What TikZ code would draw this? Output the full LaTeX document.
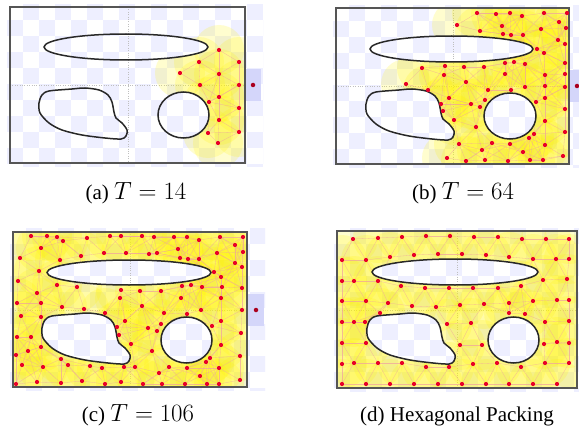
\documentclass[tikz,border=0pt]{standalone}
\usepackage[no-math]{fontspec}
\setmainfont{Liberation Serif}
\definecolor{chk}{RGB}{238,239,255}
\definecolor{bluesq}{RGB}{212,214,250}
\definecolor{ptred}{RGB}{232,0,40}
\definecolor{probec}{RGB}{170,0,30}
\definecolor{edgec}{RGB}{240,160,160}
\definecolor{framec}{RGB}{85,85,85}
\definecolor{obstc}{RGB}{40,40,40}
\definecolor{covc}{RGB}{255,245,0}

\newcommand\checker[4]{\begin{scope}\clip (#1,#2) rectangle (#3,#4);
 \foreach \cx in {0,...,16}{\foreach \cy in {0,...,10}{\ifodd\numexpr\cx+\cy\relax \fill[chk] ({#1+16*\cx},{#2+16*\cy}) rectangle ++(16,16);\fi}}\end{scope}}

\newcommand\blobshape[2]{plot[smooth cycle] coordinates {(#1+3,#2+7) (#1+10,#2+3) (#1+33,#2+1) (#1+46,#2+0) (#1+60,#2+2) (#1+69,#2+7) (#1+73,#2+14) (#1+75,#2+24) (#1+77,#2+30) (#1+83,#2+35) (#1+88,#2+42) (#1+87,#2+48) (#1+82,#2+51) (#1+66,#2+50) (#1+43,#2+47) (#1+23,#2+42) (#1+10,#2+35) (#1+1,#2+25) (#1+0,#2+15)}}

\newcommand\obstacles{(\ecx,\ecy) ellipse [x radius=\erx, y radius=\ery] (\ccx,\ccy) ellipse [x radius=\crx, y radius=\cry] \blobshape{\bx}{\by}}

% #1 prefix, #2 point list, #3 squared edge threshold
\newcommand\drawpanel[3]{%
 \begin{scope}[even odd rule]
  \clip (\Rl,\Rt) rectangle (\Rr,\Rb) \obstacles;
  \foreach \px/\py [count=\i] in #2 {\coordinate (#1\i) at (\px,\py); \fill[cover] (\px,\py) circle[radius=25];}
  \foreach \xa/\ya [count=\i] in #2 {%
    \foreach \xb/\yb [count=\j] in #2 {%
      \ifnum\j>\i
        \ifnum\numexpr(\xb-\xa)*(\xb-\xa)+(\yb-\ya)*(\yb-\ya)\relax<#3
          \draw[edge] (#1\i) -- (#1\j);
        \fi
      \fi}}
 \end{scope}
 \draw[obst] \obstacles;
 \draw[frame] (\Rl,\Rt) rectangle (\Rr,\Rb);
 \foreach \px/\py [count=\i] in #2 {\node[pt] (#1d\i) at (#1\i) {};}
}

\def\ptsA{219/50, 239/62, 199/62, 219/74, 180/73, 200/85, 239/85, 219/97, 209/102, 239/108, 219/120, 239/132, 208/133, 218/143}
\def\ptsB{477/13, 496/14, 510/13, 522/16, 544/13, 567/13, 457/25, 502/26, 480/31, 541/29, 559/22, 566/28, 503/34, 511/35, 523/35, 558/40, 565/44, 537/49, 544/53, 505/63, 514/62, 525/64, 565/63, 464/67, 484/67, 505/74, 545/75, 565/74, 466/82, 488/90, 511/90, 525/87, 545/86, 565/87, 485/100, 471/104, 480/107, 536/102, 545/98, 565/109, 454/120, 476/127, 545/121, 565/132, 534/134, 529/138, 459/144, 492/143, 510/144, 482/150, 545/145, 523/152, 466/161, 485/160, 508/161, 530/160, 543/160, 563/156, 422/68, 445/66, 444/75, 406/84, 428/90, 449/98, 441/104, 443/111, 447/158}
\def\ptsC{31/236, 47/236, 57/237, 63/241, 87/238, 110/236, 121/236, 41/248, 20/258, 60/260, 81/256, 104/253, 126/253, 39/271, 18/281, 57/285, 77/287, 37/293, 121/290, 17/303, 41/303, 62/307, 84/309, 105/313, 120/298, 21/316, 41/317, 125/321, 117/327, 119/335, 17/337, 31/337, 41/347, 28/351, 16/355, 61/359, 68/365, 22/365, 43/367, 90/366, 102/368, 124/367, 16/384, 37/382, 61/383, 82/381, 105/384, 121/382, 142/236, 154/237, 174/237, 187/237, 199/240, 220/237, 243/237, 149/254, 157/253, 178/249, 180/258, 188/259, 199/259, 217/253, 235/245, 243/252, 235/263, 242/267, 214/272, 221/277, 140/291, 161/291, 182/286, 191/285, 202/287, 222/287, 242/288, 142/306, 181/298, 221/298, 242/310, 164/313, 187/314, 201/310, 221/321, 148/328, 161/324, 157/331, 212/326, 241/333, 131/344, 152/351, 221/345, 240/356, 135/367, 159/373, 169/367, 187/368, 206/362, 210/358, 219/368, 200/376, 240/380, 143/384, 162/384, 185/384, 207/384, 219/384}
\def\ptsD{353/239, 378/238, 402/237, 426/236, 450/236, 474/237, 498/237, 522/239, 546/239, 569/239, 342/260, 366/260, 390/257, 414/255, 438/254, 462/254, 486/255, 509/257, 533/259, 556/259, 569/259, 342/281, 354/281, 378/281, 401/286, 425/288, 449/288, 473/288, 498/288, 521/286, 543/280, 567/279, 342/301, 366/301, 388/303, 412/306, 436/307, 460/305, 484/304, 509/303, 533/301, 557/300, 569/300, 342/322, 354/322, 365/322, 380/313, 447/324, 471/323, 509/313, 525/314, 545/322, 569/321, 342/343, 366/343, 460/345, 482/345, 544/344, 557/342, 569/343, 342/364, 354/363, 378/363, 402/363, 426/367, 449/367, 473/364, 497/363, 521/367, 545/363, 569/363, 342/384, 366/384, 390/384, 414/384, 438/384, 462/384, 486/384, 509/384, 533/384, 557/384}

\newcommand\mth[1]{{\fontsize{24}{28}\selectfont$#1$}}

\begin{document}
\begin{tikzpicture}[x=1pt,y=-1pt,
 cover/.style={fill=covc,fill opacity=0.19},
 edge/.style={draw=edgec,line width=0.3pt,draw opacity=0.7},
 obst/.style={draw=obstc,line width=1.5pt},
 frame/.style={draw=framec,line width=1.2pt},
 pt/.style={circle,fill=ptred,inner sep=0pt,minimum size=4.2pt},
 probe/.style={circle,fill=probec,inner sep=0pt,minimum size=4.5pt},
 captext/.style={font=\fontsize{21}{25}\selectfont,anchor=base,inner sep=0pt},
 guide/.style={draw=black!25,dotted,line width=0.4pt}]
\useasboundingbox (0,0) rectangle (579,428);
\fill[white] (0,0) rectangle (579,428);

% checkerboards
\checker{7}{4}{263}{166}
\checker{333}{5}{579}{167}
\checker{10}{228}{265}{390}
\checker{334}{228}{579}{391}

% probe squares
\fill[bluesq] (245,69) rectangle (261,101);
\node[probe] (pa) at (253,85) {};
\fill[bluesq] (569,70) rectangle (585,102);
\node[probe] (pb) at (577,86) {};
\fill[bluesq] (248,294) rectangle (264,326);
\node[probe] (pc) at (256,310) {};

% guide lines
\draw[guide] (128,7) -- (128,163) (10,85) -- (245,85);
\draw[guide] (453,8) -- (453,164) (336,86) -- (569,86);
\draw[guide] (130,232) -- (130,387) (13,310) -- (247,310);
\draw[guide] (457,231) -- (457,388) (337,310) -- (577,310);

% panel (a)
\def\Rl{10}\def\Rt{7}\def\Rr{245}\def\Rb{163}
\def\ecx{126}\def\ecy{47}\def\erx{82}\def\ery{13}
\def\ccx{183.5}\def\ccy{115}\def\crx{25.5}\def\cry{23}
\def\bx{39}\def\by{88}
\drawpanel{a}{\ptsA}{1296}

% panel (b)
\def\Rl{336}\def\Rt{8}\def\Rr{569}\def\Rb{164}
\def\ecx{451.5}\def\ecy{49}\def\erx{81.5}\def\ery{13}
\def\ccx{510}\def\ccy{116}\def\crx{26}\def\cry{23}
\def\bx{366}\def\by{89}
\drawpanel{b}{\ptsB}{1156}

% panel (c)
\def\Rl{13}\def\Rt{232}\def\Rr{247}\def\Rb{387}
\def\ecx{129}\def\ecy{272.5}\def\erx{82}\def\ery{12.5}
\def\ccx{186.5}\def\ccy{340}\def\crx{25.5}\def\cry{23}
\def\bx{42}\def\by{313}
\drawpanel{c}{\ptsC}{1089}

% panel (d)
\def\Rl{337}\def\Rt{231}\def\Rr{577}\def\Rb{388}
\def\ecx{455}\def\ecy{272}\def\erx{83}\def\ery{13}
\def\ccx{513.5}\def\ccy{340}\def\crx{25.5}\def\cry{23}
\def\bx{367}\def\by{313}
\drawpanel{d}{\ptsD}{900}

% captions
\node[captext] (capa) at (136,199) {(a) \mth{T=14}};
\node[captext] (capb) at (463,199) {(b) \mth{T=64}};
\node[captext] (capc) at (138,421) {(c) \mth{T=106}};
\node[captext] (capd) at (457,421) {(d) Hexagonal Packing};
\end{tikzpicture}
\end{document}
